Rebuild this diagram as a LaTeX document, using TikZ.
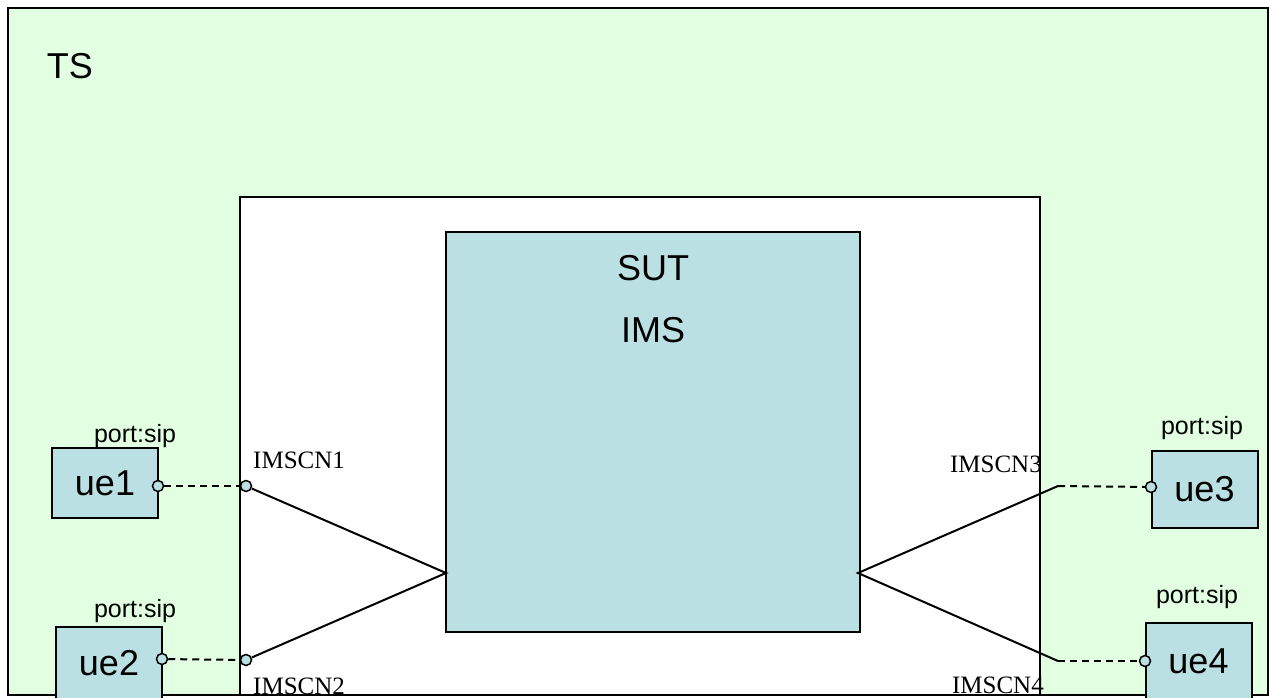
\documentclass[tikz,border=0pt]{standalone}
\usepackage{fontspec}
\newfontfamily\arialfont{Liberation Sans}
\newfontfamily\timesfont{Liberation Serif}
\definecolor{tsgreen}{RGB}{226,255,226}
\definecolor{sutblue}{RGB}{187,224,227}
\usetikzlibrary{positioning}

\begin{document}
\begin{tikzpicture}[
  x=1pt,y=-1pt,
  uebox/.style={
    draw,
    fill=sutblue,
    line width=2pt,
    inner sep=0pt,
    minimum width=106pt,
    font=\arialfont\fontsize{36}{40}\selectfont
  },
  port/.style={
    circle,
    fill=sutblue,
    draw,
    line width=1.5pt,
    inner sep=0pt,
    minimum size=11pt
  },
  portlbl/.style={
    anchor=base,
    inner sep=0pt,
    font=\arialfont\fontsize{25}{29}\selectfont
  },
  iflbl/.style={
    inner sep=0pt,
    font=\timesfont\fontsize{25}{29}\selectfont
  },
  link/.style={line width=2pt},
  dlink/.style={line width=2pt,dash pattern=on 7pt off 5pt}
]
\useasboundingbox (0,0) rectangle (1269,698);
\draw[fill=tsgreen,line width=2pt] (8,8) rectangle (1268,695);
\node[inner sep=0pt,font=\arialfont\fontsize{36}{40}\selectfont] (ts) at (70,66) {TS};
\draw[fill=white,line width=2pt] (240,197) rectangle (1040,695);
\node[draw,fill=sutblue,line width=2pt,minimum width=414pt,minimum height=400pt] (sut) at (653,432) {};
\node[inner sep=0pt,font=\arialfont\fontsize{36}{40}\selectfont] (sutlbl) at (653,268) {SUT};
\node[inner sep=0pt,font=\arialfont\fontsize{36}{40}\selectfont] (imslbl) at (653,330) {IMS};

\node[uebox,minimum height=70pt] (ue1) at (105,483) {ue1};
\node[uebox,minimum height=72pt] (ue2) at (109,663) {ue2};
\node[uebox,minimum height=77pt] (ue3) at (1204.5,489.5) {ue3};
\node[uebox,minimum height=76pt] (ue4) at (1198.5,661) {ue4};
\node[portlbl] (ps1) at (135,442) {port:sip};
\node[portlbl] (ps2) at (135,617) {port:sip};
\node[portlbl] (ps3) at (1202,434) {port:sip};
\node[portlbl] (ps4) at (1197,603) {port:sip};

\coordinate (sutL) at (446,573);
\coordinate (sutR) at (858,573);
\coordinate (c3) at (1058,486);
\coordinate (c4) at (1058,661);
\node[port] (p1) at (158,486) {};
\node[port] (p2) at (162,659) {};
\node[port] (p3) at (1151,487) {};
\node[port] (p4) at (1145,661) {};
\node[port] (c1) at (246,486) {};
\node[port] (c2) at (246,660) {};

\draw[dlink] (p1) -- (c1);
\draw[dlink] (p2) -- (c2);
\draw[dlink] (c3) -- (p3);
\draw[dlink] (c4) -- (p4);
\draw[link] (c1) -- (sutL) -- (c2);
\draw[link] (c3) -- (sutR) -- (c4);

\node[iflbl,anchor=west] (n1) at (253,460) {IMSCN1};
\node[iflbl,anchor=west] (n2) at (253,686) {IMSCN2};
\node[iflbl,anchor=east] (n3) at (1042,464) {IMSCN3};
\node[iflbl,anchor=east] (n4) at (1044,685) {IMSCN4};
\end{tikzpicture}
\end{document}
